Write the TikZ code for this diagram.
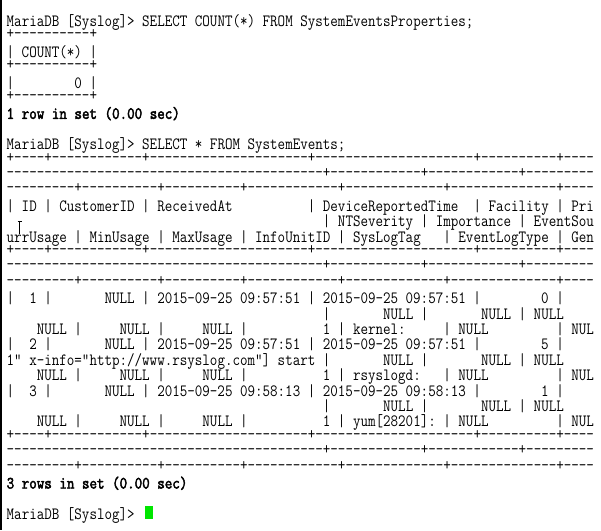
\documentclass[tikz,border=0pt]{standalone}
\usepackage{fontspec}
\newfontfamily\term{Latin Modern Mono}[Ligatures=TeXOff,FakeStretch=0.85]
\newfontfamily\termb{Latin Modern Mono}[Ligatures=TeXOff,FakeStretch=0.85,FakeBold=2.5]
\ExplSyntaxOn
\cs_new:Npn \Rep #1#2 { \prg_replicate:nn {#1} {#2} }
\ExplSyntaxOff
\newcommand\tsp[1]{\Rep{#1}{~}}
\newcommand\tds[1]{\Rep{#1}{-}}
\newcommand\setsp{\spaceskip=\fontcharwd\font`\x\relax\xspaceskip=\spaceskip\frenchspacing}
\definecolor{curgreen}{RGB}{0,230,0}
\tikzset{
  ln/.style={anchor=base west, inner sep=0pt, outer sep=0pt, text=black,
    text height=10.8pt, text depth=3.2pt,
    font=\term\fontsize{17.2}{17.2}\selectfont\setsp},
  lnb/.style={ln, font=\termb\fontsize{17.2}{17.2}\selectfont\setsp},
  bd/.style={ln, text height=7.5pt, text depth=1pt},
}
\newcommand\Ln[3][ln]{\node[#1] (l#2) at (6.7,{-26.5-(#2-1)*15.4}) {#3};}
\newcommand\Bd[2]{\node[bd] (l#1) at (6.7,{-23.5-(#1-1)*15.4}) {#2};}
\begin{document}
\begin{tikzpicture}[x=1pt,y=1pt]
\useasboundingbox (0,0) rectangle (601,-530);
\fill[white] (0,0) rectangle (601,-530);
\clip (0,0) rectangle (601,-530);
\fill[black] (0,0) rectangle (1.5,-530);
\Ln{1}{MariaDB~[Syslog]>~SELECT~COUNT(*)~FROM~SystemEventsProperties;}
\Bd{2}{+\tds{10}+}
\Ln{3}{|~COUNT(*)~|}
\Bd{4}{+\tds{10}+}
\Ln{5}{|\tsp{8}0~|}
\Bd{6}{+\tds{10}+}
\Ln[lnb]{7}{1~row~in~set~(0.00~sec)}
\Ln{9}{MariaDB~[Syslog]>~SELECT~*~FROM~SystemEvents;}
\Bd{10}{+\tds{4}+\tds{12}+\tds{21}+\tds{21}+\tds{10}+\tds{4}}
\Bd{11}{\tds{42}+\tds{12}+\tds{12}+\tds{9}}
\Bd{12}{\tds{9}+\tds{10}+\tds{10}+\tds{12}+\tds{13}+\tds{14}+\tds{4}}
\Ln{13}{|~ID~|~CustomerID~|~ReceivedAt\tsp{10}|~DeviceReportedTime\tsp{2}|~Facility~|~Pri}
\Ln{14}{\tsp{42}|~NTSeverity~|~Importance~|~EventSou}
\Ln{15}{urrUsage~|~MinUsage~|~MaxUsage~|~InfoUnitID~|~SysLogTag\tsp{3}|~EventLogType~|~Gen}
\Bd{16}{+\tds{4}+\tds{12}+\tds{21}+\tds{21}+\tds{10}+\tds{4}}
\Bd{17}{\tds{42}+\tds{12}+\tds{12}+\tds{9}}
\Bd{18}{\tds{9}+\tds{10}+\tds{10}+\tds{12}+\tds{13}+\tds{14}+\tds{4}}
\Ln{19}{|\tsp{2}1~|\tsp{7}NULL~|~2015-09-25~09:57:51~|~2015-09-25~09:57:51~|\tsp{8}0~|}
\Ln{20}{\tsp{42}|\tsp{7}NULL~|\tsp{7}NULL~|~NULL}
\Ln{21}{\tsp{4}NULL~|\tsp{5}NULL~|\tsp{5}NULL~|\tsp{10}1~|~kernel:\tsp{5}|~NULL\tsp{9}|~NUL}
\Ln{22}{|\tsp{2}2~|\tsp{7}NULL~|~2015-09-25~09:57:51~|~2015-09-25~09:57:51~|\tsp{8}5~|}
\Ln{23}{1"~x-info="http://www.rsyslog.com"]~start~|\tsp{7}NULL~|\tsp{7}NULL~|~NULL}
\Ln{24}{\tsp{4}NULL~|\tsp{5}NULL~|\tsp{5}NULL~|\tsp{10}1~|~rsyslogd:\tsp{3}|~NULL\tsp{9}|~NUL}
\Ln{25}{|\tsp{2}3~|\tsp{7}NULL~|~2015-09-25~09:58:13~|~2015-09-25~09:58:13~|\tsp{8}1~|}
\Ln{26}{\tsp{42}|\tsp{7}NULL~|\tsp{7}NULL~|~NULL}
\Ln{27}{\tsp{4}NULL~|\tsp{5}NULL~|\tsp{5}NULL~|\tsp{10}1~|~yum[28201]:~|~NULL\tsp{9}|~NUL}
\Bd{28}{+\tds{4}+\tds{12}+\tds{21}+\tds{21}+\tds{10}+\tds{4}}
\Bd{29}{\tds{42}+\tds{12}+\tds{12}+\tds{9}}
\Bd{30}{\tds{9}+\tds{10}+\tds{10}+\tds{12}+\tds{13}+\tds{14}+\tds{4}}
\Ln[lnb]{31}{3~rows~in~set~(0.00~sec)}
\Ln{33}{MariaDB~[Syslog]>}
\fill[curgreen] (145.3,-505.8) rectangle (152.9,-518.6);
\draw[black, line width=0.8pt] (19.8,-221.5) -- (19.8,-234);
\draw[black, line width=0.7pt] (17.6,-221.5) -- (22,-221.5);
\end{tikzpicture}
\end{document}
